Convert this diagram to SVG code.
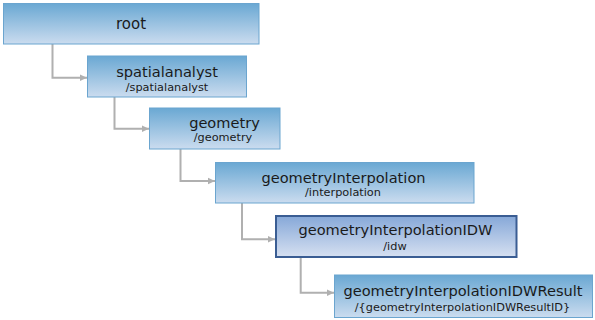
<svg xmlns="http://www.w3.org/2000/svg" width="595" height="320" viewBox="0 0 595 320">
<defs>
<linearGradient id="g" x1="0" y1="0" x2="0" y2="1">
<stop offset="0" stop-color="#6aa8d3"/>
<stop offset="1" stop-color="#cbdcef"/>
</linearGradient>
<linearGradient id="gs" x1="0" y1="0" x2="0" y2="1">
<stop offset="0" stop-color="#86a8d8"/>
<stop offset="1" stop-color="#d6e0f1"/>
</linearGradient>
<marker id="ah" markerWidth="8" markerHeight="8" refX="7" refY="4" orient="auto" markerUnits="userSpaceOnUse">
<path d="M0,0.8 L7,4 L0,7.2 Z" fill="#b0b0b0"/>
</marker>
<style>
.box{fill:url(#g);stroke:#6ba5cf;stroke-width:1}
.sel{fill:url(#gs);stroke:#3a5d93;stroke-width:2}
.t{font-family:"DejaVu Sans",Verdana,sans-serif;font-size:14.6px;fill:#1a1a1a;text-anchor:middle}
.s{font-family:"DejaVu Sans",Verdana,sans-serif;font-size:11.3px;fill:#1a1a1a;text-anchor:middle}
.c{fill:none;stroke:#b0b0b0;stroke-width:2;marker-end:url(#ah)}
</style>
</defs>
<g id="connectors">
<path class="c" d="M52.5,44 V77.7 H87"/>
<path class="c" d="M114.5,97 V128.7 H149"/>
<path class="c" d="M180.5,149 V181 H215"/>
<path class="c" d="M242,203 V239.3 H275"/>
<path class="c" d="M300.7,257 V292.7 H334"/>
</g>
<g id="root">
<rect class="box" x="3.5" y="3.5" width="255.5" height="40.5"/>
<text class="t" x="131" y="29" style="font-size:15px">root</text>
</g>
<g id="spatialanalyst">
<rect class="box" x="87.5" y="56" width="159" height="41"/>
<text class="t" x="167" y="77">spatialanalyst</text>
<text class="s" x="167" y="90.5">/spatialanalyst</text>
</g>
<g id="geometry">
<rect class="box" x="149.5" y="108" width="130.5" height="41"/>
<text class="t" x="224.5" y="128">geometry</text>
<text class="s" x="223" y="141">/geometry</text>
</g>
<g id="geometryInterpolation">
<rect class="box" x="215.5" y="162.5" width="258.5" height="40.5"/>
<text class="t" x="343.5" y="183">geometryInterpolation</text>
<text class="s" x="343" y="196">/interpolation</text>
</g>
<g id="geometryInterpolationIDW">
<rect class="sel" x="276" y="216" width="240.5" height="41"/>
<text class="t" x="395.5" y="234.5">geometryInterpolationIDW</text>
<text class="s" x="395" y="249.5">/idw</text>
</g>
<g id="geometryInterpolationIDWResult">
<rect class="box" x="334.5" y="275" width="258" height="42.5"/>
<text class="t" x="463" y="295.5">geometryInterpolationIDWResult</text>
<text class="s" x="462.5" y="310.5">/{geometryInterpolationIDWResultID}</text>
</g>
</svg>
